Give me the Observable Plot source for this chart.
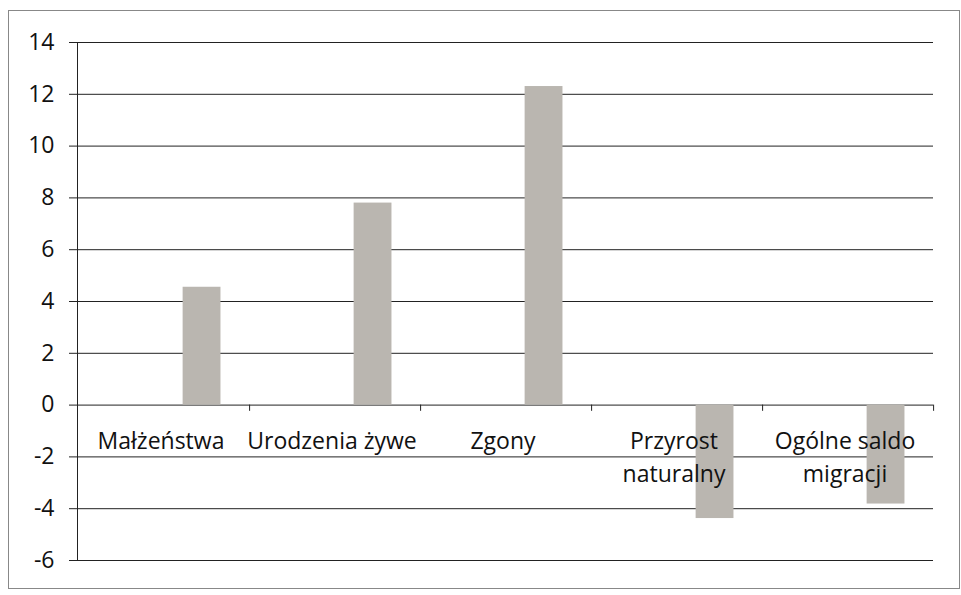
<!DOCTYPE html>
<html>
<head>
<meta charset="utf-8">
<script src="https://cdn.jsdelivr.net/npm/d3@7"></script>
<script src="https://cdn.jsdelivr.net/npm/@observablehq/plot@0.6"></script>
<style>
  html, body { margin: 0; padding: 0; background: #fff; }
</style>
</head>
<body>
<div id="chart"></div>
<script>
const categories = ["Małżeństwa", "Urodzenia żywe", "Zgony", "Przyrost naturalny", "Ogólne saldo migracji"];
const labels = ["Małżeństwa", "Urodzenia żywe", "Zgony", "Przyrost\nnaturalny", "Ogólne saldo\nmigracji"];
const values = [4.55, 7.8, 12.3, -4.38, -3.82];
const yTicks = [-6, -4, -2, 0, 2, 4, 6, 8, 10, 12, 14];

const data = categories.map((c, i) => ({category: c, label: labels[i], value: values[i]}));

const W = 961, H = 595;
const mL = 77, mR = 28, mT = 42, mB = 35;
const bw = (W - mL - mR) / categories.length;
// Excel clustered layout: 3 series slots, gap width 150%, visible bar in third slot
const slot = bw / 4.5;
const insetL = slot * 0.75 + slot * 2;
const insetR = slot * 0.75;

const ink = "#222";

const chart = Plot.plot({
  width: W,
  height: H,
  marginLeft: mL,
  marginRight: mR,
  marginTop: mT,
  marginBottom: mB,
  style: {fontFamily: "'Open Sans', sans-serif", fontSize: "23px", color: "#111", background: "#fff"},
  x: {domain: categories, padding: 0, axis: null},
  y: {domain: [-6, 14], ticks: yTicks, label: null, grid: false},
  marks: [
    Plot.gridY(yTicks, {stroke: ink, strokeOpacity: 1, strokeWidth: 1}),
    Plot.axisY(yTicks, {tickSize: 8, tickPadding: 15, stroke: ink, label: null, fontSize: 23, tickFormat: d => String(d), fill: "#111"}),
    Plot.frame({anchor: "left", stroke: ink}),
    Plot.ruleX(categories, {x: d => d, dx: bw / 2, y1: 0, y2: -0.24, stroke: ink}),
    Plot.barY(data, {x: "category", y: "value", fill: "#bab6b0", insetLeft: insetL, insetRight: insetR}),
    Plot.text(data, {x: "category", y: 0, text: "label", lineAnchor: "top", dy: 20, dx: -3, lineHeight: 1.45, fontSize: 23, fill: "#111", textAnchor: "middle"})
  ]
});

// outer chart border
d3.select(chart).append("rect")
  .attr("x", 8.5).attr("y", 10.5)
  .attr("width", 951).attr("height", 578)
  .attr("fill", "none").attr("stroke", "#888").attr("stroke-width", 1);

document.getElementById("chart").appendChild(chart);
</script>
</body>
</html>
